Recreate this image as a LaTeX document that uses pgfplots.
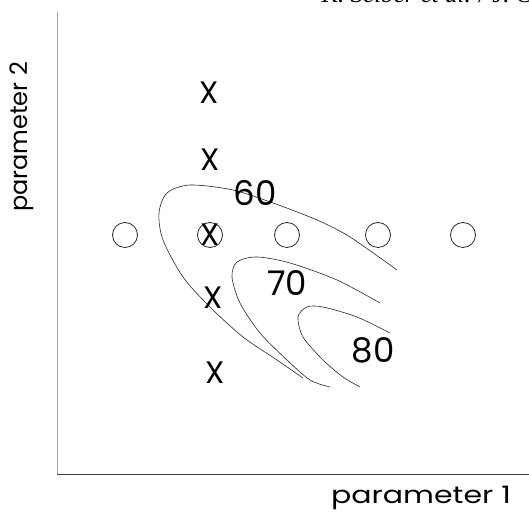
\documentclass[border=0pt]{standalone}
\usepackage{pgfplots}
\pgfplotsset{compat=1.18}
\usepackage{fontspec}
\setmainfont{Poppins}
\newfontfamily\widefont[FakeStretch=1.25]{Poppins}
\newfontfamily\serifit{Liberation Serif}
\begin{document}
\begin{tikzpicture}[x=1pt,y=1pt]
\useasboundingbox (0,0) rectangle (529,529);
\begin{axis}[at={(57pt,55pt)}, anchor=south west, scale only axis,
  width=472pt, height=462pt, xmin=57, xmax=529, ymin=55, ymax=517,
  axis x line=bottom, axis y line=left,
  x axis line style={-, draw=black!75, line width=0.7pt},
  y axis line style={-, draw=black!35, line width=0.7pt},
  ticks=none, clip=false]
% contour 60
\addplot[smooth, black!85, line width=0.6pt] coordinates {
(397,259) (350,292) (317,309) (273,326) (233,339) (190,344) (167,336) (159,316)
(163,289) (183,252) (210,222) (243,192) (277,169) (303,151)};
% contour 70
\addplot[smooth, black!85, line width=0.6pt] coordinates {
(380,226) (337,249) (290,266) (257,272) (237,267) (232,252) (240,226) (260,196)
(287,169) (310,149) (330,142)};
% contour 80
\addplot[smooth, black!85, line width=0.6pt] coordinates {
(390,196) (357,212) (323,222) (307,222) (298,212) (303,192) (323,169) (343,152) (360,142)};
% circles
\addplot[only marks, mark=o, mark size=12.5pt, mark options={line width=0.8pt, draw=black!85}] coordinates {
(125,294) (210,294) (287,294) (378,294) (463,294)};
% X marks
\addplot[only marks, mark=text, text mark={X}, text mark as node=true,
  text mark style={font=\fontsize{31}{31}\selectfont}] coordinates {
(209,436) (210,369) (210,294) (213,231) (215,156)};
\node[font=\fontsize{34}{34}\selectfont] at (axis cs:255,336) {60};
\node[font=\fontsize{34}{34}\selectfont] at (axis cs:287,246) {70};
\node[font=\fontsize{34}{34}\selectfont] at (axis cs:373,179) {80};
\end{axis}
\node[font=\widefont\fontsize{24}{24}\selectfont] at (421,31) {parameter 1};
\node[font=\fontsize{24}{24}\selectfont, rotate=90] at (22,392) {parameter 2};
\node[anchor=base west, font=\serifit\itshape\fontsize{25}{25}\selectfont] at (318,526) {K. Seiber et al. / J. Ch};
\end{tikzpicture}
\end{document}
